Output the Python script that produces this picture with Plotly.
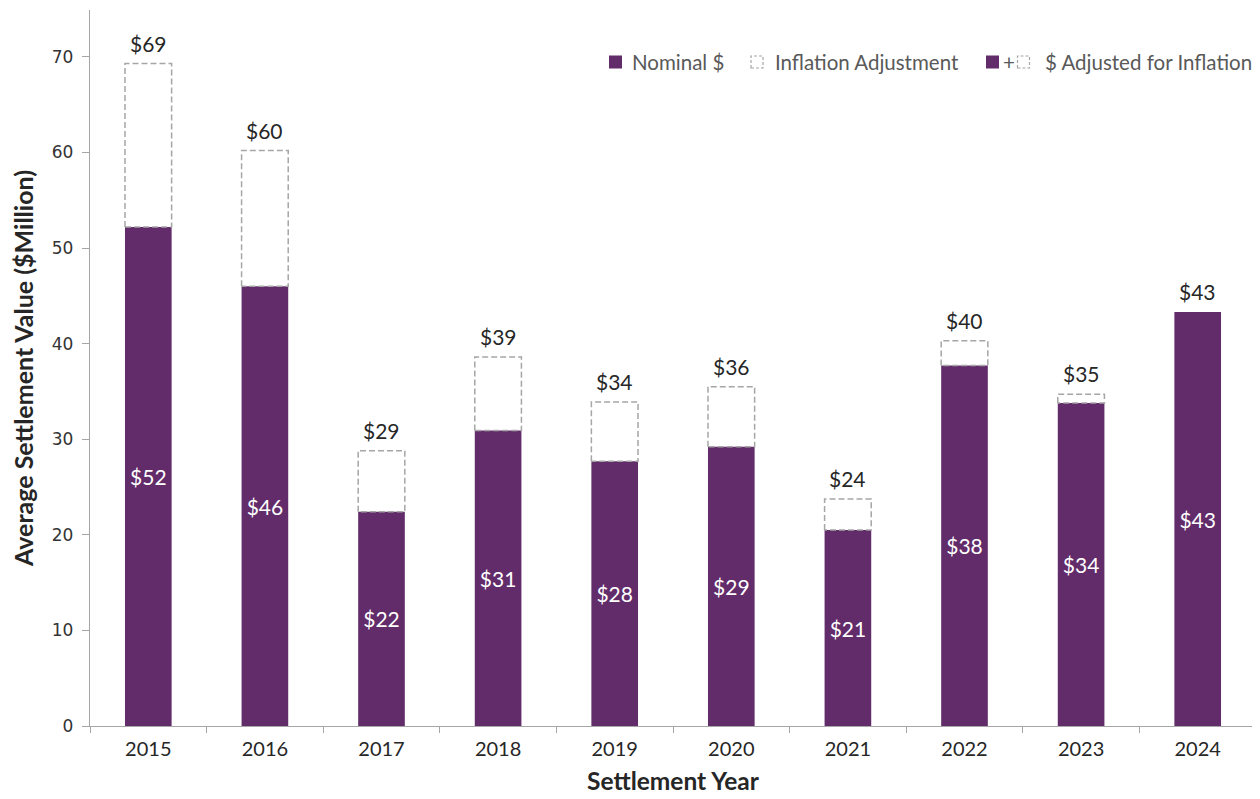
import plotly.graph_objects as go

years = ["2015", "2016", "2017", "2018", "2019", "2020", "2021", "2022", "2023", "2024"]
nominal = [52.2, 46.0, 22.4, 30.9, 27.7, 29.2, 20.5, 37.7, 33.8, 43.3]
adjusted = [69.3, 60.2, 28.8, 38.6, 33.9, 35.5, 23.75, 40.3, 34.7, 43.3]
nominal_labels = ["$52", "$46", "$22", "$31", "$28", "$29", "$21", "$38", "$34", "$43"]
adjusted_labels = ["$69", "$60", "$29", "$39", "$34", "$36", "$24", "$40", "$35", "$43"]

PURPLE = "#622B6A"
GRAY_DASH = "#A6A6A6"
TEXT = "#262626"
BAR_W = 0.4

# page offset of the plot div (body margin) is 8px
W, H = 1260, 799
L, R, T, B = 82, 12, 2, 81
# plot area in page pixels
PL, PR, PT, PB = 90, 1256, 10, 726

xs = list(range(len(years)))

fig = go.Figure()

fig.add_trace(go.Bar(
    x=xs, y=nominal, width=BAR_W, marker=dict(color=PURPLE, line=dict(width=0)),
    text=nominal_labels, textposition="inside", insidetextanchor="middle",
    textfont=dict(family="Lato", size=21, color="white"), textangle=0,
    showlegend=False, hoverinfo="skip",
))

# dashed outlines for inflation adjustment
px_, py_ = [], []
half = BAR_W / 2
for i, (n, a) in enumerate(zip(nominal, adjusted)):
    if a - n < 0.05:
        continue
    px_ += [i - half, i - half, i + half, i + half, i - half, None]
    py_ += [n, a, a, n, n, None]
fig.add_trace(go.Scatter(
    x=px_, y=py_, mode="lines",
    line=dict(color=GRAY_DASH, width=1.5, dash="6px,3px"),
    showlegend=False, hoverinfo="skip",
))

annotations = []
for i, (a, lab) in enumerate(zip(adjusted, adjusted_labels)):
    annotations.append(dict(
        x=i, y=a, xref="x", yref="y", text=lab, showarrow=False,
        yanchor="bottom", yshift=6,
        font=dict(family="Lato", size=21, color=TEXT),
    ))

# custom legend (paper coords converted from page pixel positions)
def pxx(p):
    return (p - PL) / (PR - PL)

def pyy(p):
    return (PB - p) / (PB - PT)

shapes = []
leg_y = 62
sq = 6.5

def purple_sq(cx):
    shapes.append(dict(type="rect", xref="paper", yref="paper",
                       x0=pxx(cx - sq), x1=pxx(cx + sq), y0=pyy(leg_y + sq), y1=pyy(leg_y - sq),
                       fillcolor=PURPLE, line=dict(width=0)))

def dash_sq(cx):
    shapes.append(dict(type="rect", xref="paper", yref="paper",
                       x0=pxx(cx - 6), x1=pxx(cx + 6), y0=pyy(leg_y + 6), y1=pyy(leg_y - 6),
                       fillcolor="rgba(0,0,0,0)", line=dict(color=GRAY_DASH, width=1.2, dash="3px,2px")))

purple_sq(615.5)
dash_sq(757)
purple_sq(992.5)
dash_sq(1023.5)

leg_font = dict(family="Lato", size=20.5, color="#595959")
for xpos, txt in [(630, "Nominal $"), (773, "Inflation Adjustment"), (1001, "+"), (1043, "$ Adjusted for Inflation")]:
    annotations.append(dict(x=pxx(xpos), y=pyy(leg_y), xref="paper", yref="paper",
                            text=txt, showarrow=False, xanchor="left", yanchor="middle",
                            font=leg_font))

fig.update_layout(
    width=W, height=H,
    margin=dict(l=L, r=R, t=T, b=B, autoexpand=False),
    plot_bgcolor="white", paper_bgcolor="white",
    annotations=annotations, shapes=shapes,
    xaxis=dict(
        range=[-0.5, len(years) - 0.5],
        tickmode="array", tickvals=xs, ticktext=years, ticks="",
        ticklabelstandoff=5,
        tickfont=dict(family="Lato", size=20, color=TEXT),
        showline=True, linecolor="#A6A6A6", linewidth=1.3, showgrid=False, zeroline=False,
        minor=dict(tickmode="array", tickvals=[i - 0.5 for i in range(len(years) + 1)],
                   ticks="outside", ticklen=6, tickcolor="#A6A6A6", tickwidth=1.3),
        title=dict(text="<b>Settlement Year</b>", font=dict(family="Lato", size=24.5, color=TEXT), standoff=13),
        automargin=False,
    ),
    yaxis=dict(
        range=[0, 74.9], tickmode="array", tickvals=[0, 10, 20, 30, 40, 50, 60, 70],
        ticks="outside", ticklen=7, tickcolor="#A6A6A6", tickwidth=1.3,
        ticklabelstandoff=5,
        tickfont=dict(family="DejaVu Sans", size=17, color="#333333"),
        showline=True, linecolor="#A6A6A6", linewidth=1.3, showgrid=False, zeroline=False,
        title=dict(text="<b>Average Settlement Value ($Million)</b>", font=dict(family="Lato", size=25, color=TEXT), standoff=20),
        automargin=False,
    ),
    bargap=0.6,
)

fig.write_html("out.html")
